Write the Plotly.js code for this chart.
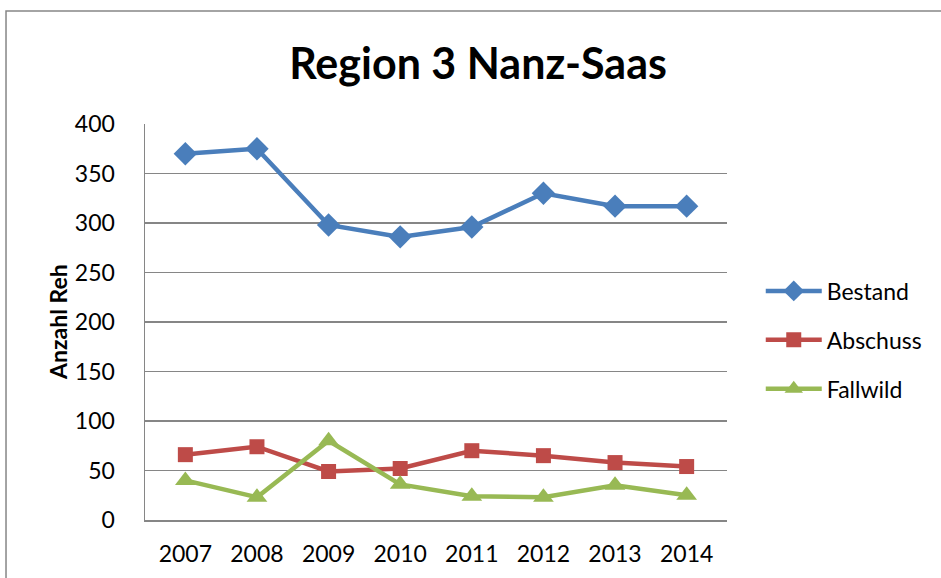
<!DOCTYPE html>
<html>
<head>
<meta charset="utf-8">
<script src="https://cdn.plot.ly/plotly-3.0.1.min.js"></script>
<style>html,body{margin:0;padding:0;background:#fff;}#chart{width:941px;height:578px;}</style>
</head>
<body>
<div id="chart"></div>
<script>
const years = ['2007','2008','2009','2010','2011','2012','2013','2014'];
const bestand = [370, 375, 298, 286, 296, 330, 317, 317];
const abschuss = [66, 74, 49, 52, 70, 65, 58, 54];
const fallwild = [40, 23, 80, 36, 24, 23, 35, 25];
const yTicks = [0, 50, 100, 150, 200, 250, 300, 350, 400];

const FONT = 'Lato, "Open Sans", sans-serif';

const traces = [
  {x: years, y: bestand, name: 'Bestand', type: 'scatter', mode: 'lines+markers',
   line: {color: '#4A7EBB', width: 4.5}, marker: {symbol: 'diamond', size: 18, color: '#4A7EBB'}, legendgroup: 'a'},
  {x: years, y: abschuss, name: 'Abschuss', type: 'scatter', mode: 'lines+markers',
   line: {color: '#BE4B48', width: 4.5}, marker: {symbol: 'square', size: 15, color: '#BE4B48'}, legendgroup: 'b'},
  {x: years, y: fallwild, name: 'Fallwild', type: 'scatter', mode: 'lines+markers',
   line: {color: '#98B954', width: 4.5}, marker: {symbol: 'triangle-up', size: 18, color: '#98B954'}, legendgroup: 'c'}
];

const layout = {
  width: 941, height: 578,
  margin: {l: 145, r: 214, t: 124, b: 58},
  paper_bgcolor: '#fff', plot_bgcolor: '#fff',
  font: {family: FONT, color: '#000', size: 22},
  title: {text: '<b>Region 3 Nanz-Saas</b>', font: {family: FONT, size: 43, color: '#000'},
          x: 0.508, xref: 'container', xanchor: 'center', y: 0.89, yref: 'container', yanchor: 'middle'},
  xaxis: {type: 'category', showgrid: false, showline: true, linecolor: '#868686', linewidth: 1.5,
          ticks: '', tickfont: {size: 23, family: FONT}, ticklabelstandoff: 13, fixedrange: true},
  yaxis: {range: [0, 400], tickvals: yTicks, showgrid: true, gridcolor: '#868686', gridwidth: 1.3,
          showline: true, linecolor: '#868686', linewidth: 1.5, zeroline: false, ticks: '',
          tickfont: {size: 23, family: FONT}, ticklabelstandoff: 24, fixedrange: true},
  showlegend: true,
  legend: {x: 1.058, xanchor: 'left', y: 0.4545, yanchor: 'middle', font: {size: 23, family: FONT},
           itemwidth: 56, tracegroupgap: 16, bgcolor: 'rgba(0,0,0,0)'},
  annotations: [{text: '<b>Anzahl Reh</b>', textangle: -90, xref: 'paper', yref: 'paper',
                 x: -0.1495, y: 0.5, xanchor: 'center', yanchor: 'middle', showarrow: false,
                 font: {size: 23, family: FONT, color: '#000'}}],
  shapes: [{type: 'rect', xref: 'paper', yref: 'paper', x0: -0.2388, x1: 1.375, y0: -0.16, y1: 1.2854,
            line: {color: '#868686', width: 1.5}, fillcolor: 'rgba(0,0,0,0)', layer: 'below'}]
};

Plotly.newPlot('chart', traces, layout, {displayModeBar: false, staticPlot: true});
</script>
</body>
</html>
